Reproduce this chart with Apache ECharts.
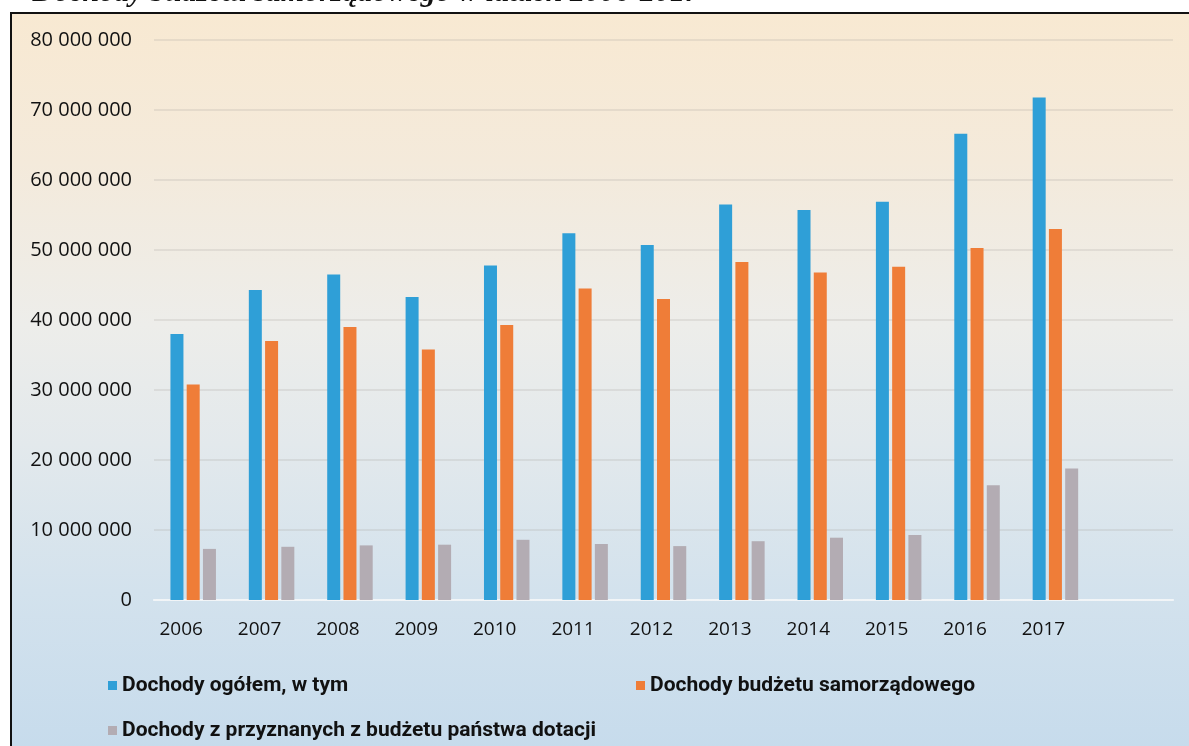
<!DOCTYPE html>
<html>
<head>
<meta charset="utf-8">
<script src="https://cdn.jsdelivr.net/npm/echarts@6/dist/echarts.min.js"></script>
<style>
  html, body { margin: 0; padding: 0; background: #ffffff; }
  #wrap { position: relative; width: 1189px; height: 746px; overflow: hidden; background: #ffffff; }
  #panel {
    position: absolute; left: 10px; top: 12px; width: 1185px; height: 740px;
    border-left: 2px solid #111; border-top: 2px solid #111;
    background: linear-gradient(to bottom, #f8e9d2 0%, #f4eadb 20%, #ededea 42%, #e3e9ec 58%, #d3e2ed 78%, #c6dbec 100%);
  }
  #chart { position: absolute; left: 0; top: 0; width: 1189px; height: 746px; }
</style>
</head>
<body>
<div id="wrap">
  <div id="panel"></div>
  <div id="chart"></div>
</div>
<script>
// ---- data ----
const titleText = 'Dochody budżetu samorządowego w latach 2006-2017';
const years = ['2006', '2007', '2008', '2009', '2010', '2011', '2012', '2013', '2014', '2015', '2016', '2017', ''];
const seriesNames = [
  'Dochody ogółem, w tym',
  'Dochody budżetu samorządowego',
  'Dochody z przyznanych z budżetu państwa dotacji'
];
const totalIncome = [38000000, 44300000, 46500000, 43300000, 47800000, 52400000, 50700000, 56500000, 55700000, 56900000, 66600000, 71800000];
const localBudget = [30800000, 37000000, 39000000, 35800000, 39300000, 44500000, 43000000, 48300000, 46800000, 47600000, 50300000, 53000000];
const stateGrants = [7300000, 7600000, 7800000, 7900000, 8600000, 8000000, 7700000, 8400000, 8900000, 9300000, 16400000, 18800000];
const yTicks = { min: 0, max: 80000000, interval: 10000000 };

const colors = ['#2f9fd7', '#ef7d38', '#b3acb3'];

function fmt(v) {
  return String(v).replace(/\B(?=(\d{3})+(?!\d))/g, ' ');
}

const chart = echarts.init(document.getElementById('chart'), null, { renderer: 'canvas' });

const legendBase = {
  icon: 'rect', itemWidth: 9, itemHeight: 9, padding: 0,
  textStyle: { fontFamily: 'Roboto', fontWeight: 'bold', fontSize: 21, color: '#111', lineHeight: 20 },
  selectedMode: false
};

const option = {
  backgroundColor: 'transparent',
  animation: false,
  color: colors,
  graphic: [{
    type: 'text', right: 489, top: -22,
    style: { text: titleText, font: 'italic bold 30px "Liberation Serif"', fill: '#111' }
  }],
  grid: { left: 154, right: 16, top: 40, bottom: 146, containLabel: false },
  legend: [
    Object.assign({}, legendBase, { data: [seriesNames[0]], left: 108, top: 675 }),
    Object.assign({}, legendBase, { data: [seriesNames[1]], left: 636, top: 675 }),
    Object.assign({}, legendBase, { data: [seriesNames[2]], left: 108, top: 720 })
  ],
  xAxis: {
    type: 'category',
    data: years,
    axisLine: { show: true, lineStyle: { color: 'rgba(255,255,255,0.75)', width: 2 } },
    axisTick: { show: false },
    axisLabel: { fontFamily: 'Open Sans', fontSize: 19, color: '#111', margin: 20, padding: [0, 24, 0, 0] }
  },
  yAxis: {
    type: 'value',
    min: yTicks.min, max: yTicks.max, interval: yTicks.interval,
    axisLine: { show: false },
    axisTick: { show: false },
    axisLabel: { fontFamily: 'Open Sans', fontSize: 20, color: '#111', margin: 22, formatter: fmt },
    splitLine: { lineStyle: { color: 'rgba(170,165,160,0.3)', width: 1.5 } }
  },
  series: [
    { name: seriesNames[0], type: 'bar', data: totalIncome, barWidth: 13, barGap: '25%', itemStyle: { color: colors[0] } },
    { name: seriesNames[1], type: 'bar', data: localBudget, barWidth: 13, barGap: '25%', itemStyle: { color: colors[1] } },
    { name: seriesNames[2], type: 'bar', data: stateGrants, barWidth: 13, barGap: '25%', itemStyle: { color: colors[2] } }
  ]
};
chart.setOption(option);
</script>
</body>
</html>
